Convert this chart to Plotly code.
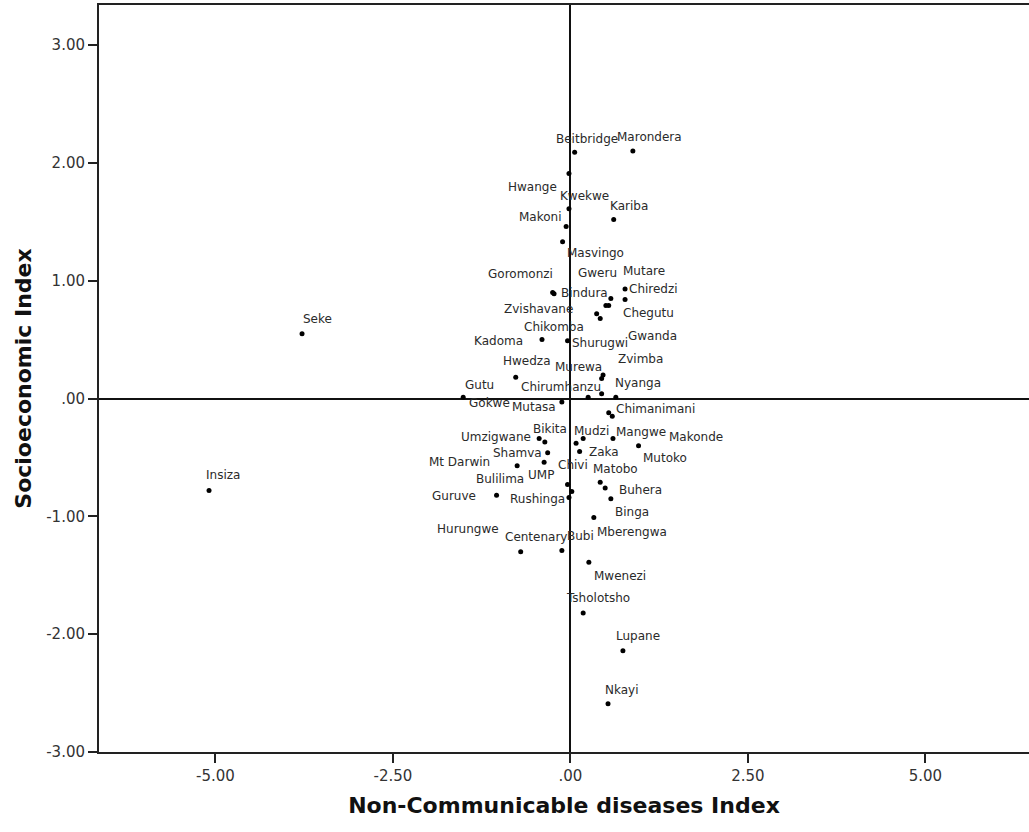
import plotly.graph_objects as go

# District names (point labels)
names = ["Beitbridge", "Marondera", "Hwange", "Kwekwe", "Kariba", "Makoni", "Masvingo",
         "Goromonzi", "Bindura", "Gweru", "Mutare", "Chiredzi", "Chegutu", "Zvishavane",
         "Gwanda", "Chikomba", "Kadoma", "Shurugwi", "Seke", "Hwedza", "Zvimba", "Murewa",
         "Gutu", "Gokwe", "Chirumhanzu", "Nyanga", "Mutasa", "Chimanimani", "Makonde",
         "Umzigwane", "Bikita", "Mudzi", "Guruve", "Mangwe", "Mutoko", "Shamva", "Zaka",
         "UMP", "Mt Darwin", "Chivi", "Matobo", "Buhera", "Hurungwe", "Bulilima",
         "Rushinga", "Binga", "Mberengwa", "Centenary", "Bubi", "Mwenezi", "Tsholotsho",
         "Lupane", "Nkayi", "Insiza"]

# Non-Communicable diseases Index (x)
ncd = [0.06, 0.88, -0.02, -0.02, 0.61, -0.06, -0.11,
       -0.25, -0.23, 0.57, 0.77, 0.77, 0.54, 0.50,
       0.42, 0.37, -0.40, -0.04, -3.78, -0.77, 0.46, 0.44,
       -1.51, 0.25, 0.44, 0.64, -0.12, 0.54, 0.59,
       -0.44, -0.36, 0.08, 0.18, 0.60, 0.96, -0.32, 0.13,
       -0.37, -0.75, -0.04, 0.42, 0.49, 0.02, -1.04,
       -0.02, 0.57, 0.33, -0.70, -0.12, 0.26, 0.18,
       0.74, 0.53, -5.09]

# Socioeconomic Index (y)
sei = [2.09, 2.10, 1.91, 1.61, 1.52, 1.46, 1.33,
       0.90, 0.89, 0.85, 0.93, 0.84, 0.79, 0.79,
       0.68, 0.72, 0.50, 0.49, 0.55, 0.18, 0.20, 0.17,
       0.01, 0.01, 0.04, 0.01, -0.03, -0.12, -0.15,
       -0.34, -0.37, -0.38, -0.34, -0.34, -0.40, -0.46, -0.45,
       -0.54, -0.57, -0.73, -0.71, -0.76, -0.79, -0.82,
       -0.84, -0.85, -1.01, -1.30, -1.29, -1.39, -1.82,
       -2.14, -2.59, -0.78]

# Label offsets from their point, in screen pixels (right, down)
label_dx = [12, 17, -36, 16, 15, -26, 33,
            -32, 30, -13, 19, 28, 40, -67,
            52, -43, -43, 32, 15, 11, 37, -23,
            16, -99, -41, 22, -28, 47, 84,
            -43, 5, 15, -129, 28, 26, -30, 24,
            -3, -58, 5, 15, 35, -104, 3,
            -31, 21, 38, 15, 19, 31, 15,
            15, 14, 14]
label_dy = [-13, -14, 14, -13, -13, -10, 11,
            -18, -1, -25, -18, -11, 8, 4,
            18, 13, 1, 2, -15, -16, -16, -12,
            -12, 6, -7, -14, 5, -4, 21,
            -2, -13, -12, 57, -7, 12, 0, 0,
            13, -4, -20, -13, 2, 37, -16,
            1, 13, 14, -15, -15, 14, -15,
            -15, -14, -15]

x_ticks = [-5, -2.5, 0, 2.5, 5]
x_ticktext = ["-5.00", "-2.50", ".00", "2.50", "5.00"]
y_ticks = [-3, -2, -1, 0, 1, 2, 3]
y_ticktext = ["-3.00", "-2.00", "-1.00", ".00", "1.00", "2.00", "3.00"]

fig = go.Figure()
fig.add_trace(go.Scatter(
    x=ncd, y=sei, mode="markers", text=names,
    marker=dict(color="black", size=5),
    hoverinfo="text", showlegend=False,
))

annotations = []
for n, xv, yv, dx, dy in zip(names, ncd, sei, label_dx, label_dy):
    annotations.append(dict(
        x=xv, y=yv, xref="x", yref="y", text=n, showarrow=False,
        xshift=dx, yshift=-dy, xanchor="center", yanchor="middle",
        font=dict(family="DejaVu Sans", size=12, color="#2a2a2a"),
    ))

axis_common = dict(
    showgrid=False, showline=True, linecolor="#222", linewidth=2,
    ticks="outside", ticklen=9, tickwidth=2, tickcolor="#222",
    zeroline=True, zerolinecolor="#111", zerolinewidth=2,
    tickfont=dict(family="DejaVu Sans", size=15, color="#333"),
)

fig.update_layout(
    width=1029, height=832,
    margin=dict(l=99, r=0, t=5, b=80),
    paper_bgcolor="white", plot_bgcolor="white",
    annotations=annotations,
    xaxis=dict(
        range=[-6.64, 6.46], tickmode="array", tickvals=x_ticks, ticktext=x_ticktext,
        mirror=True,
        title=dict(text="Non-Communicable diseases Index", standoff=14,
                   font=dict(family="DejaVu Sans", size=22, color="#111", weight="bold")),
        **axis_common,
    ),
    yaxis=dict(
        range=[-3, 3.34], tickmode="array", tickvals=y_ticks, ticktext=y_ticktext,
        title=dict(text="Socioeconomic Index", standoff=8,
                   font=dict(family="DejaVu Sans", size=22, color="#111", weight="bold")),
        **axis_common,
    ),
)

fig.write_html(
    "out.html",
    config={"displayModeBar": False},
    post_script="document.body.style.margin='0';document.body.style.overflow='hidden';",
)
